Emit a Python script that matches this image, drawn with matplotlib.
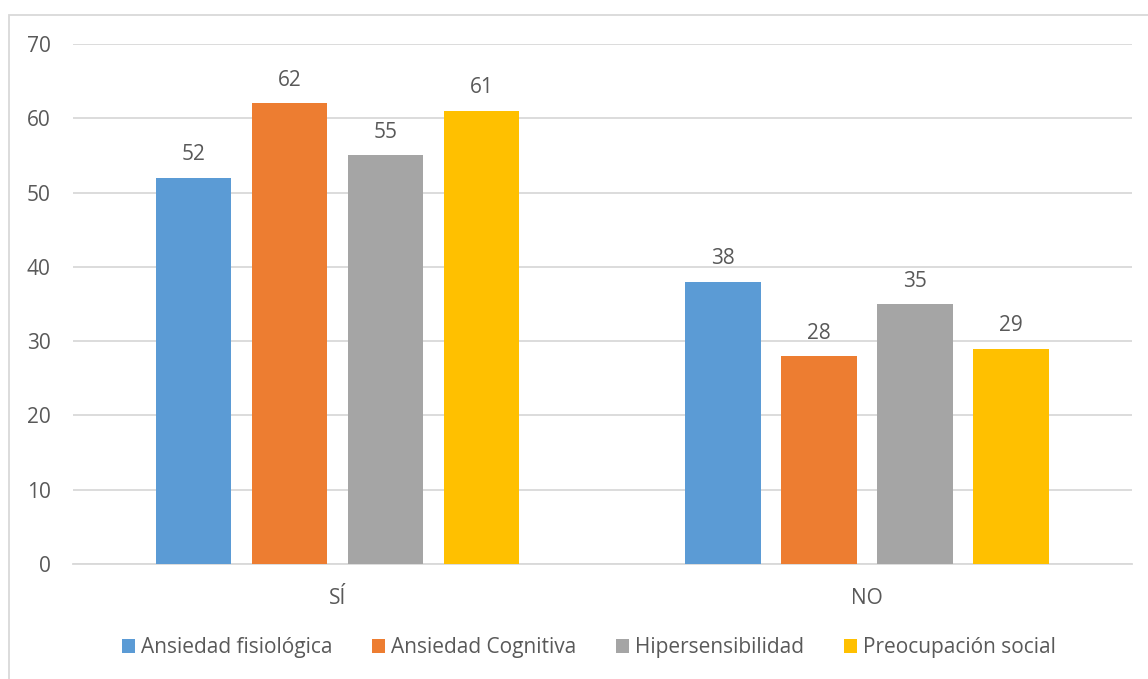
import numpy as np
import matplotlib.pyplot as plt
from matplotlib.patches import Rectangle

plt.rcParams['font.family'] = ['Open Sans', 'DejaVu Sans']

categories = ['SÍ', 'NO']
series_names = ['Ansiedad fisiológica', 'Ansiedad Cognitiva',
                'Hipersensibilidad', 'Preocupación social']
fisiologica = [52, 38]
cognitiva = [62, 28]
hipersensibilidad = [55, 35]
preocupacion = [61, 29]
colors = ['#5B9BD5', '#ED7D31', '#A5A5A5', '#FFC000']

text_col = '#595959'
fs = 15

fig = plt.figure(figsize=(11.48, 6.79), dpi=100)
ax = fig.add_axes([72.7/1148, 115/679, 1059/1148, 520/679])

# chart frame
fig.patches.append(Rectangle((8.5/1148, -0.01), 1.1, (679-14.5)/679 + 0.01,
                             transform=fig.transFigure, fill=False,
                             edgecolor='#D9D9D9', linewidth=1.3))

x = np.arange(len(categories))
width = 0.142
step = 0.1813
all_series = [fisiologica, cognitiva, hipersensibilidad, preocupacion]
for i, (vals, name, c) in enumerate(zip(all_series, series_names, colors)):
    pos = x + (i - 1.5) * step
    bars = ax.bar(pos, vals, width, color=c, label=name, zorder=3)
    for b, v in zip(bars, vals):
        ax.text(b.get_x() + b.get_width()/2, v + 2.35, str(v), ha='center',
                va='baseline', fontsize=fs, color=text_col)

ax.set_xlim(-0.5, 1.5)
ax.set_ylim(0, 70)
ax.set_yticks(range(0, 71, 10))
ax.set_xticks(x)
ax.set_xticklabels(categories)
ax.yaxis.grid(True, color='#D9D9D9', linewidth=1.3, zorder=0)
for s in ['top', 'right', 'left']:
    ax.spines[s].set_visible(False)
ax.spines['bottom'].set_color('#D9D9D9')
ax.spines['bottom'].set_linewidth(1.3)
ax.tick_params(axis='both', length=0, labelsize=fs, labelcolor=text_col)
ax.tick_params(axis='y', pad=16)
ax.tick_params(axis='x', pad=17)

leg = fig.legend(loc='center', bbox_to_anchor=(589/1148, 1 - 648/679), ncol=4,
                 frameon=False, fontsize=fs, handlelength=0.62, handleheight=0.62,
                 handletextpad=0.3, columnspacing=1.9)
for t in leg.get_texts():
    t.set_color(text_col)

fig.savefig('out.png', dpi=100)
